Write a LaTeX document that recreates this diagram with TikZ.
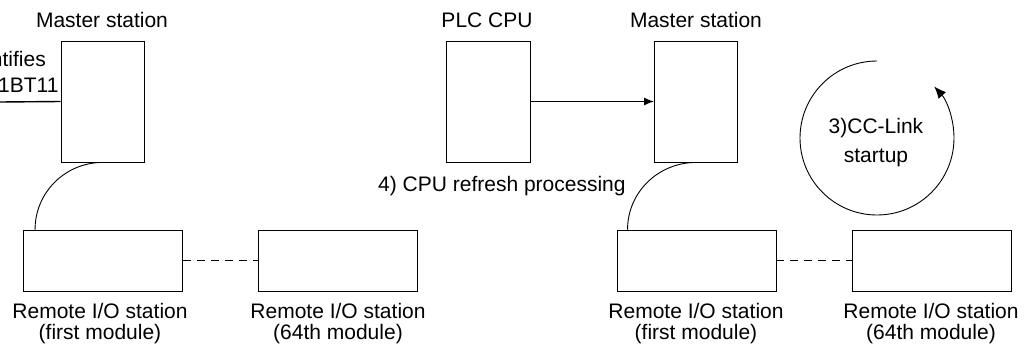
\documentclass[tikz,border=0pt]{standalone}
\usepackage{fontspec}
\setmainfont{Liberation Sans}
\usetikzlibrary{arrows.meta, positioning}
\tikzset{
    unitbox/.style={
        draw=black,
        line width=0.9pt,
        inner sep=0pt
    },
    mststation/.style={unitbox, minimum width=83pt, minimum height=121pt},
    cpubox/.style={unitbox, minimum width=84pt, minimum height=121pt},
    remotebox/.style={unitbox, minimum width=159pt, minimum height=61pt},
    caption/.style={font=\fontsize{21}{21}\selectfont, align=center, inner sep=0pt},
    feed/.style={line width=1.4pt},
    flow/.style={-{Latex[length=10pt, width=8pt]}, line width=1.4pt},
    cable/.style={line width=0.9pt},
    linkdash/.style={line width=0.9pt, dash pattern=on 8pt off 6pt}
}
\begin{document}
\begin{tikzpicture}[x=1pt, y=1pt]
    \useasboundingbox (0,0) rectangle (1028,-345);

    % left side
    \node[mststation] (mstA) at (102.5,-101.5) {};
    \node[remotebox] (remA1) at (103,-260.5) {};
    \node[remotebox] (remA64) at (337.5,-260.5) {};
    \node[caption] (mstAlbl) at (102,-20) {Master station};
    \node[caption] (remA1lbl) at (100,-324) {Remote I/O station\\(first module)};
    \node[caption] (remA64lbl) at (338,-324) {Remote I/O station\\(64th module)};
    \node[caption, anchor=east] (swlbl) at (46,-59) {ntifies};
    \node[caption, anchor=west] (swname) at (-2,-85) {1BT11};
    \coordinate (swin) at (0,-102);

    % right side
    \node[cpubox] (plc) at (488,-101.5) {};
    \node[mststation] (mstB) at (696,-101.5) {};
    \node[remotebox] (remB1) at (696.5,-260.5) {};
    \node[remotebox] (remB64) at (931.5,-260.5) {};
    \node[caption] (plclbl) at (487,-20) {PLC CPU};
    \node[caption] (mstBlbl) at (696,-20) {Master station};
    \node[caption] (remB1lbl) at (696,-324) {Remote I/O station\\(first module)};
    \node[caption] (remB64lbl) at (931,-324) {Remote I/O station\\(64th module)};
    \node[caption, anchor=west] (refresh) at (378,-186) {4) CPU refresh processing};
    \node[caption] (startup) at (876,-143) {3)CC-Link\\[8pt]startup};

    \draw[feed] (swin) -- (mstA.west);
    \draw[cable] (mstA.south) to[out=180, in=90] ([xshift=12pt]remA1.north west);
    \draw[linkdash] (remA1.east) -- (remA64.west);

    \draw[flow] (plc.east) -- (mstB.west);
    \draw[cable] (mstB.south) to[out=180, in=90] ([xshift=11pt]remB1.north west);
    \draw[linkdash] (remB1.east) -- (remB64.west);
    \draw[-{Latex[length=12pt, width=10pt]}, line width=0.9pt]
        ([shift={(90:77)}]877,-138) arc[start angle=90, end angle=402, radius=77];
\end{tikzpicture}
\end{document}
